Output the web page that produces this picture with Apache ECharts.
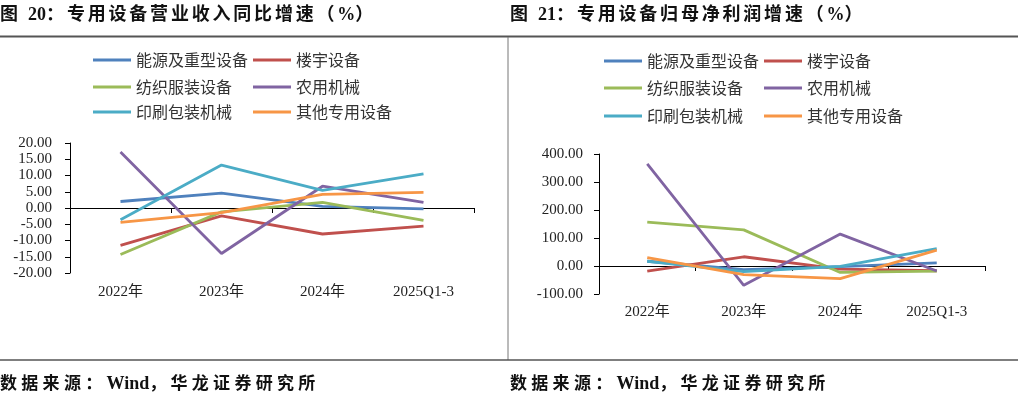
<!DOCTYPE html>
<html>
<head>
<meta charset="utf-8">
<script src="https://cdn.jsdelivr.net/npm/echarts@6/dist/echarts.min.js"></script>
<style>
  html, body { margin: 0; padding: 0; background: #fff; }
  .wrap { position: relative; width: 1018px; height: 398px; }
  #main { width: 1018px; height: 398px; }
  .tit, .foot {
    position: absolute;
    font-family: "Liberation Serif", "Times New Roman", "Noto Sans CJK SC", serif;
    font-weight: bold;
    color: #111;
    white-space: nowrap;
  }
  .tit { top: 3px; font-size: 18px; letter-spacing: 2.8px; line-height: 22px; }
  .foot { top: 372px; font-size: 17px; letter-spacing: 4.3px; line-height: 22px; }
  .lat { letter-spacing: 0; font-size: 18px; }
</style>
</head>
<body>
<div class="wrap">
  <div id="main"></div>
  <div class="tit" style="left:0">图 <span class="lat">20</span>：专用设备营业收入同比增速（<span class="lat">%</span>）</div>
  <div class="tit" style="left:510px">图 <span class="lat">21</span>：专用设备归母净利润增速（<span class="lat">%</span>）</div>
  <div class="foot" style="left:0">数据来源：<span class="lat">Wind</span>，华龙证券研究所</div>
  <div class="foot" style="left:510px">数据来源：<span class="lat">Wind</span>，华龙证券研究所</div>
</div>
<script>
// 横轴
var categories = ["2022年", "2023年", "2024年", "2025Q1-3"];
var seriesNames = ["能源及重型设备", "楼宇设备", "纺织服装设备", "农用机械", "印刷包装机械", "其他专用设备"];

// 图20 营业收入同比增速（%）
var revEnergy = [2.0, 4.6, 0.5, -0.3];
var revBuilding = [-11.5, -2.4, -8.0, -5.6];
var revTextile = [-14.3, -1.2, 1.7, -3.8];
var revAgri = [17.2, -14.0, 6.7, 1.7];
var revPrint = [-3.6, 13.2, 5.4, 10.5];
var revOther = [-4.4, -1.4, 4.2, 4.8];

// 图21 归母净利润增速（%）
var profitEnergy = [17, -13, -2, 11];
var profitBuilding = [-18, 33, -11, -17];
var profitTextile = [157, 129, -23, -18];
var profitAgri = [365, -69, 114, -18];
var profitPrint = [17, -20, -1, 62];
var profitOther = [30, -31, -45, 57];

// 纵轴刻度
var revTicks = { min: -20, max: 20, interval: 5 };
var profitTicks = { min: -100, max: 400, interval: 100 };

var colors = ["#4F81BD", "#C0504D", "#9BBB59", "#8064A2", "#4BACC6", "#F79646"];
var serif = '"Liberation Serif", "Times New Roman", "Noto Sans CJK SC", serif';

var revData = [revEnergy, revBuilding, revTextile, revAgri, revPrint, revOther];
var profitData = [profitEnergy, profitBuilding, profitTextile, profitAgri, profitPrint, profitOther];

var myChart = echarts.init(document.getElementById("main"));

function zeroAxis(gridIndex) {
  return {
    gridIndex: gridIndex,
    type: "category",
    data: categories,
    boundaryGap: true,
    axisLine: { show: true, onZero: true, lineStyle: { color: "#000", width: 1 } },
    axisTick: { show: true, length: 5, lineStyle: { color: "#000" } },
    axisLabel: { show: false },
    splitLine: { show: false }
  };
}
function labelAxis(gridIndex, margin) {
  return {
    gridIndex: gridIndex,
    type: "category",
    data: categories,
    position: "bottom",
    boundaryGap: true,
    axisLine: { show: false, onZero: false },
    axisTick: { show: false },
    axisLabel: { margin: margin, fontSize: 15, color: "#222", fontFamily: serif },
    splitLine: { show: false }
  };
}
function valueAxis(gridIndex, ticks, margin) {
  return {
    gridIndex: gridIndex,
    type: "value",
    min: ticks.min,
    max: ticks.max,
    interval: ticks.interval,
    axisLine: { show: true, lineStyle: { color: "#000", width: 1 } },
    axisTick: { show: true, length: 5, lineStyle: { color: "#000" } },
    axisLabel: {
      margin: margin,
      fontSize: 15,
      color: "#222",
      fontFamily: serif,
      formatter: function (v) { return v.toFixed(2); }
    },
    splitLine: { show: false }
  };
}

var series = [];
for (var i = 0; i < seriesNames.length; i++) {
  series.push({
    name: seriesNames[i], type: "line", xAxisIndex: 0, yAxisIndex: 0,
    data: revData[i], symbol: "none", color: colors[i],
    lineStyle: { width: 2.8, color: colors[i] }
  });
  series.push({
    name: seriesNames[i], type: "line", xAxisIndex: 2, yAxisIndex: 1,
    data: profitData[i], symbol: "none", color: colors[i],
    lineStyle: { width: 2.8, color: colors[i] }
  });
}

// 图例：每张图 3 行 2 列
var legendCols = [[93, 253], [604, 764]];
var legendRows = [[61, 88, 113], [62, 89, 117]];
var legends = [];
for (var c = 0; c < 2; c++) {
  for (var k = 0; k < seriesNames.length; k++) {
    legends.push({
      data: [seriesNames[k]],
      left: legendCols[c][k % 2],
      top: legendRows[c][Math.floor(k / 2)] - 9,
      padding: 0,
      icon: "rect",
      itemWidth: 38,
      itemHeight: 3,
      textStyle: { fontSize: 16, color: "#333", fontFamily: '"Noto Sans CJK SC", sans-serif' }
    });
  }
}

var option = {
  animation: false,
  legend: legends,
  grid: [
    { left: 70, right: 544, top: 143, bottom: 125 },
    { left: 599, right: 33, top: 154, bottom: 104 }
  ],
  xAxis: [zeroAxis(0), labelAxis(0, 12), zeroAxis(1), labelAxis(1, 11)],
  yAxis: [valueAxis(0, revTicks, 18), valueAxis(1, profitTicks, 16)],
  graphic: [
    { type: "line", shape: { x1: 0, y1: 36.5, x2: 1018, y2: 36.5 }, style: { stroke: "#555", lineWidth: 2 } },
    { type: "line", shape: { x1: 508, y1: 37, x2: 508, y2: 360 }, style: { stroke: "#777", lineWidth: 1 } },
    { type: "line", shape: { x1: 0, y1: 360, x2: 1018, y2: 360 }, style: { stroke: "#555", lineWidth: 1.5 } }
  ],
  series: series
};

myChart.setOption(option);
window.addEventListener("resize", function () {
  if (myChart) myChart.resize();
});
</script>
</body>
</html>
